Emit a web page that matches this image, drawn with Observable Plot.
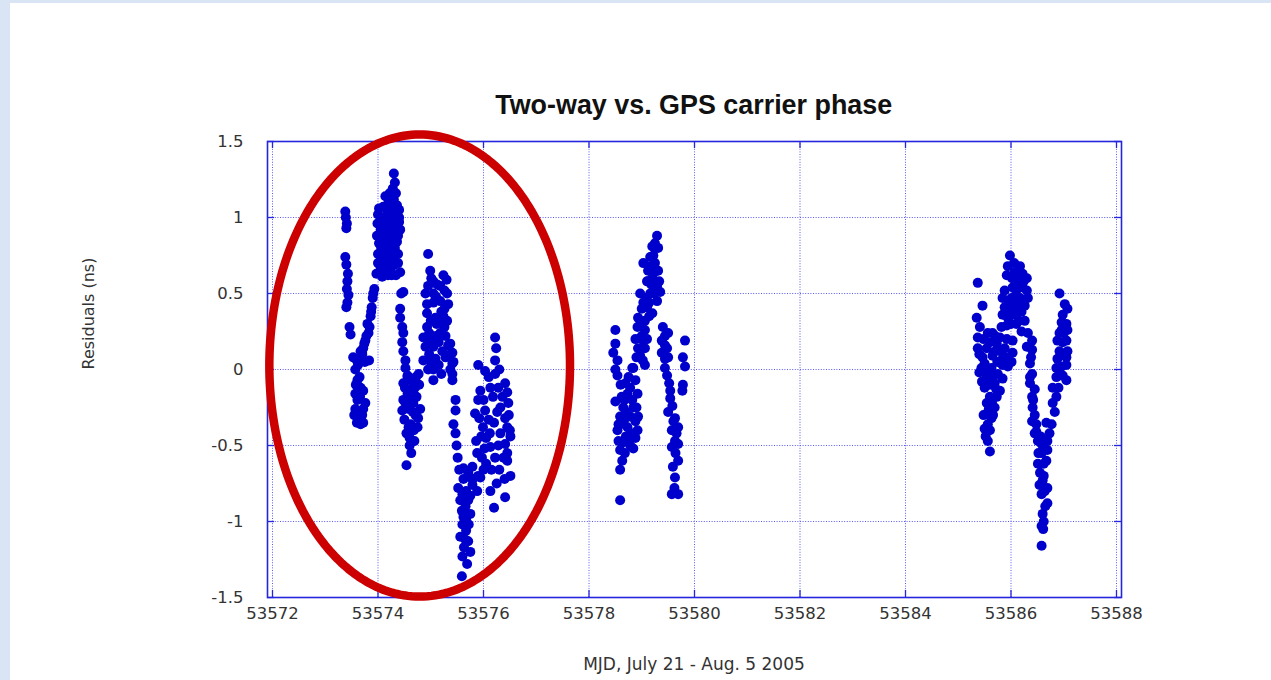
<!DOCTYPE html>
<html>
<head>
<meta charset="utf-8">
<script src="https://cdn.jsdelivr.net/npm/d3@7"></script>
<script src="https://cdn.jsdelivr.net/npm/@observablehq/plot@0.6"></script>
<style>
  html, body { margin: 0; padding: 0; }
  body { width: 1271px; height: 680px; overflow: hidden; background: #d9e5f5; position: relative; }
  #panel { position: absolute; left: 10px; top: 3px; width: 1261px; height: 677px; background: #ffffff; }
  #chart { position: absolute; left: 0; top: 0; width: 1271px; }
  #title { box-sizing: border-box; height: 125px; padding-top: 91px; margin-left: 267px; width: 854px; text-align: center;
           font-family: "Liberation Sans Narrow", "Liberation Sans", Arial, sans-serif; font-weight: bold; font-size: 28px; line-height: 28px; color: #111; }
  #title span { display: inline-block; transform: scaleX(0.96); }
  #xlabel { box-sizing: border-box; padding-top: 16px; margin-left: 267px; width: 854px; text-align: center;
            font-family: "DejaVu Sans", sans-serif; font-size: 17px; line-height: 17px; color: #333; }
  svg { display: block; }
</style>
</head>
<body>
<div id="panel"></div>
<div id="chart">
  <div id="title"><span>Two-way vs. GPS carrier phase</span></div>
  <div id="plot"></div>
  <div id="xlabel">MJD, July 21 - Aug. 5 2005</div>
</div>
<script>
// Tick values
const xTicks = [53572, 53574, 53576, 53578, 53580, 53582, 53584, 53586, 53588];
const yTicks = [-1.5, -1, -0.5, 0, 0.5, 1, 1.5];
const yLabel = "Residuals (ns)";

// Observation period 1 (MJD 53573.3 - 53576.6): [MJD, residual ns]
const pass1 = [
  [53573.38,1.04],[53573.39,1.00],[53573.41,0.96],[53573.40,0.93],
  [53573.38,0.74],[53573.40,0.69],[53573.43,0.63],[53573.42,0.58],[53573.41,0.53],[53573.44,0.49],[53573.42,0.44],[53573.40,0.41],
  [53573.46,0.28],[53573.48,0.23],
  [53573.53,0.08],[53573.70,0.11],[53573.83,0.06],[53573.57,0.00],[53573.61,-0.07],[53573.67,-0.12],[53573.72,-0.14],
  [53573.57,-0.16],[53573.61,-0.20],[53573.72,-0.26],[53573.57,-0.26],[53573.63,-0.32],[53573.72,-0.35],[53573.67,-0.36],
  [53573.55,-0.30],[53573.65,-0.05],[53573.60,0.06],
  [53573.62,0.03],[53573.75,0.05],[53573.66,-0.18],[53573.58,-0.10],[53573.70,-0.30],[53573.60,-0.35],[53573.76,-0.22],
  [53573.93,0.53],[53573.90,0.47],[53573.88,0.41],[53573.86,0.35],[53573.80,0.30],[53573.82,0.24],[53573.76,0.19],[53573.72,0.14],[53573.67,0.12],
  [53573.84,0.28],[53573.78,0.22],[53573.74,0.17],[53573.91,0.50],[53573.87,0.38],[53573.70,0.10],
  [53574.30,1.29],[53574.32,1.23],[53574.28,1.19],[53574.22,1.16],[53574.14,1.14],[53574.30,1.12],[53574.36,1.08],[53574.40,1.05],
  [53574.26,1.08],[53574.10,1.07],[53574.02,1.06],[53574.18,1.04],[53574.32,1.01],[53574.40,0.97],[53574.06,1.00],[53573.99,0.96],
  [53574.14,0.96],[53574.24,0.96],[53574.05,0.92],[53574.18,0.90],[53574.30,0.90],[53574.38,0.88],[53574.10,0.86],[53574.02,0.83],
  [53574.24,0.84],[53574.32,0.80],[53574.12,0.79],[53574.20,0.77],[53574.00,0.76],[53574.06,0.72],[53574.28,0.73],[53574.16,0.70],
  [53574.05,0.67],[53573.97,0.63],[53574.12,0.64],[53574.24,0.66],[53574.34,0.62],[53574.42,0.64],[53574.19,0.62],[53574.08,0.61],
  [53574.00,1.02],[53574.08,0.98],[53574.20,1.00],[53574.28,1.04],[53574.36,0.93],[53574.12,0.92],[53574.24,0.91],[53573.98,0.88],
  [53574.08,0.90],[53574.16,0.84],[53574.28,0.86],[53574.36,0.84],[53574.06,0.80],[53574.24,0.79],[53574.38,0.76],[53574.12,0.74],
  [53574.30,0.69],[53574.22,0.72],[53574.00,0.70],[53574.38,0.70],[53574.26,0.62],[53574.16,0.66],[53574.20,1.10],[53574.26,1.14],
  [53574.34,1.16],[53574.40,1.00],[53574.42,0.92],
  [53574.44,0.50],[53574.48,0.51],
  [53574.42,0.40],[53574.42,0.34],[53574.46,0.28],[53574.48,0.24],[53574.46,0.18],[53574.48,0.12],[53574.52,0.06],[53574.52,0.01],[53574.56,-0.04],[53574.48,-0.09],
  [53574.56,-0.05],[53574.77,-0.03],[53574.65,-0.08],[53574.51,-0.12],[53574.62,-0.14],[53574.73,-0.18],[53574.56,-0.16],[53574.48,-0.20],
  [53574.67,-0.22],[53574.80,-0.26],[53574.58,-0.26],[53574.71,-0.30],[53574.50,-0.33],[53574.62,-0.36],[53574.75,-0.38],[53574.54,-0.42],
  [53574.69,-0.47],[53574.63,-0.55],[53574.54,-0.63],[53574.60,-0.50],[53574.78,-0.10],[53574.46,-0.27],
  [53574.70,-0.12],[53574.52,-0.22],[53574.66,-0.28],[53574.76,-0.32],[53574.58,-0.38],[53574.68,-0.40],[53574.60,-0.45],[53574.72,-0.05],[53574.60,-0.20],
  [53574.95,0.76],[53574.99,0.65],[53575.01,0.60],[53575.24,0.62],[53575.30,0.59],[53574.90,0.50],[53575.05,0.50],[53575.31,0.50],
  [53574.93,0.43],[53575.18,0.45],[53575.33,0.43],[53574.93,0.37],[53575.09,0.34],[53575.31,0.32],[53574.93,0.28],[53575.11,0.30],
  [53575.26,0.28],[53574.86,0.21],[53574.99,0.19],[53575.18,0.24],[53574.90,0.15],[53575.05,0.15],[53575.33,0.16],[53574.86,0.06],
  [53575.09,0.07],[53575.37,0.10],[53575.05,0.00],[53575.41,0.04],[53575.05,-0.07],[53575.41,-0.03],[53575.20,0.38],[53575.12,0.56],
  [53575.22,0.12],[53574.97,0.10],
  [53574.95,0.55],[53575.05,0.58],[53575.18,0.55],[53575.26,0.52],[53575.05,0.44],[53575.10,0.48],[53575.26,0.40],[53575.00,0.32],
  [53575.18,0.32],[53575.24,0.35],[53574.97,0.24],[53575.10,0.22],[53575.28,0.22],[53575.15,0.18],[53575.00,0.05],[53575.15,0.03],
  [53575.28,0.08],[53575.20,-0.03],[53574.95,0.00],
  [53575.37,0.17],[53575.41,0.11],[53575.43,0.05],[53575.37,0.00],[53575.41,-0.07],[53575.47,-0.20],[53575.47,-0.27],[53575.43,-0.36],
  [53575.47,-0.42],[53575.49,-0.50],[53575.51,-0.58],
  [53575.54,-0.66],[53575.71,-0.68],[53575.90,-0.70],[53575.52,-0.78],[53575.67,-0.80],[53575.79,-0.76],[53575.56,-0.86],[53575.71,-0.86],
  [53575.88,-0.80],[53575.59,-0.93],[53575.75,-0.95],[53575.67,-0.99],[53575.67,-1.06],[53575.56,-1.10],[53575.71,-1.13],[53575.63,-1.17],
  [53575.75,-1.20],[53575.69,-1.28],[53575.59,-1.36],[53575.62,-0.72],[53575.60,-1.02],
  [53575.62,-0.65],[53575.80,-0.72],[53575.60,-0.82],[53575.75,-0.83],[53575.66,-0.90],[53575.62,-0.97],[53575.72,-1.02],[53575.66,-1.12],[53575.60,-1.23],
  [53576.22,0.21],[53576.24,0.14],[53576.22,0.06],[53575.90,0.03],[53576.03,-0.01],[53576.22,-0.03],[53576.41,-0.09],[53575.94,-0.14],
  [53576.18,-0.18],[53575.84,-0.29],[53576.03,-0.27],[53576.32,-0.25],[53576.41,-0.32],[53576.45,-0.38],[53575.99,-0.38],[53575.86,-0.47],
  [53576.05,-0.45],[53576.32,-0.42],[53576.41,-0.49],[53576.13,-0.51],[53575.88,-0.55],[53575.97,-0.58],[53576.45,-0.55],[53575.79,-0.64],
  [53576.05,-0.62],[53576.15,-0.66],[53576.45,-0.60],[53576.51,-0.70],[53575.75,-0.71],[53575.94,-0.71],[53576.13,-0.80],[53576.41,-0.84],
  [53576.20,-0.91],[53576.45,-0.15],[53576.47,-0.22],[53576.51,-0.44],[53576.13,-0.12],[53575.90,-0.20],[53576.10,-0.33],
  [53576.10,-0.05],[53576.30,0.00],[53576.00,-0.20],[53576.28,-0.12],[53576.36,-0.18],[53576.20,-0.35],[53575.92,-0.32],[53576.28,-0.50],
  [53576.38,-0.58],[53576.02,-0.52],[53576.22,-0.58],[53576.30,-0.66],[53576.40,-0.72],[53576.50,-0.40],[53576.48,-0.30],[53575.96,-0.44],
  [53576.12,-0.42],[53576.26,-0.28],[53576.00,-0.66],[53576.25,-0.75]
];

// Observation period 2 (MJD 53578.4 - 53579.9)
const pass2 = [
  [53578.50,0.26],[53578.50,0.17],[53578.46,0.11],[53578.54,0.06],[53578.50,0.00],[53578.54,-0.04],[53578.50,-0.21],[53578.69,-0.09],
  [53578.84,0.01],[53578.88,-0.07],[53578.73,-0.16],[53578.92,-0.16],[53578.65,-0.25],[53578.84,-0.25],[53578.59,-0.31],[53578.78,-0.31],
  [53578.93,-0.31],[53578.54,-0.40],[53578.73,-0.38],[53578.92,-0.40],[53578.56,-0.47],[53578.75,-0.45],[53578.84,-0.52],[53578.59,-0.53],
  [53578.63,-0.60],[53578.59,-0.66],[53578.59,-0.86],[53578.67,-0.20],[53578.80,-0.42],[53578.60,-0.36],
  [53578.60,-0.10],[53578.78,-0.12],[53578.62,-0.18],[53578.82,-0.20],[53578.70,-0.28],[53578.88,-0.34],[53578.66,-0.34],[53578.70,-0.44],
  [53578.88,-0.45],[53578.64,-0.48],[53578.78,-0.50],[53578.56,-0.36],[53578.75,-0.05],[53578.90,-0.25],[53578.68,-0.55],
  [53579.29,0.88],[53579.25,0.83],[53579.31,0.80],[53579.20,0.81],[53579.16,0.74],[53579.03,0.70],[53579.25,0.70],[53579.12,0.65],
  [53579.31,0.65],[53579.20,0.60],[53579.29,0.55],[53579.35,0.51],[53578.97,0.50],[53579.16,0.50],[53579.03,0.44],[53579.29,0.45],
  [53579.20,0.37],[53578.93,0.34],[53579.06,0.32],[53578.92,0.28],[53579.06,0.26],[53578.88,0.20],[53579.03,0.19],[53578.93,0.14],
  [53579.06,0.14],[53578.97,0.09],[53578.82,0.01],[53579.06,0.03],[53579.10,0.41],[53579.10,0.58],
  [53579.22,0.75],[53579.14,0.68],[53579.24,0.64],[53579.12,0.58],[53579.24,0.50],[53579.08,0.47],[53579.14,0.44],[53579.00,0.40],
  [53579.14,0.35],[53578.98,0.30],[53579.00,0.22],[53579.10,0.20],[53578.90,0.08],[53579.02,0.06],[53579.33,0.58],[53579.18,0.56],
  [53579.40,0.28],[53579.50,0.24],[53579.38,0.19],[53579.48,0.14],[53579.38,0.11],[53579.50,0.08],[53579.44,0.01],[53579.48,-0.04],
  [53579.54,-0.14],[53579.54,-0.19],[53579.50,-0.28],[53579.63,-0.32],[53579.69,-0.38],[53579.57,-0.40],[53579.63,-0.47],[53579.57,-0.51],
  [53579.69,-0.49],[53579.69,-0.60],[53579.59,-0.64],[53579.63,-0.71],[53579.57,-0.82],[53579.69,-0.82],
  [53579.44,0.22],[53579.44,0.16],[53579.44,0.07],[53579.52,-0.09],[53579.58,-0.24],[53579.60,-0.34],[53579.66,-0.42],[53579.64,-0.55],[53579.62,-0.78],
  [53579.82,0.19],[53579.78,0.08],[53579.82,0.02],[53579.78,-0.10],[53579.77,-0.14]
];

// Observation period 3 (MJD 53585.3 - 53587.1)
const pass3 = [
  [53585.37,0.57],[53585.46,0.42],[53585.35,0.34],[53585.41,0.28],[53585.37,0.21],[53585.56,0.24],[53585.65,0.24],[53585.79,0.21],
  [53585.37,0.14],[53585.54,0.14],[53585.73,0.17],[53585.88,0.14],[53586.03,0.19],[53585.46,0.08],[53585.65,0.09],[53585.84,0.07],
  [53586.03,0.11],[53585.44,0.01],[53585.63,0.01],[53585.84,0.03],[53586.01,0.05],[53585.54,-0.05],[53585.75,-0.03],[53585.50,-0.12],
  [53585.69,-0.09],[53585.79,-0.14],[53585.60,-0.18],[53585.73,-0.18],[53585.54,-0.22],[53585.69,-0.25],[53585.54,-0.29],[53585.63,-0.32],
  [53585.50,-0.39],[53585.60,-0.40],[53585.56,-0.47],[53585.60,-0.54],[53585.48,-0.30],[53585.45,-0.08],
  [53585.48,0.20],[53585.60,0.18],[53585.70,0.12],[53585.92,0.20],[53585.50,0.04],[53585.74,0.05],[53585.92,0.08],[53585.56,-0.02],
  [53585.66,-0.04],[53585.60,-0.10],[53585.72,-0.13],[53585.64,-0.22],[53585.58,-0.26],[53585.66,-0.30],[53585.56,-0.36],[53585.52,-0.44],
  [53585.40,0.10],[53585.94,0.02],[53585.84,-0.06],[53585.80,0.12],[53585.70,0.22],[53585.40,-0.02],
  [53585.98,0.75],[53585.94,0.68],[53586.17,0.68],[53586.22,0.63],[53586.07,0.64],[53586.30,0.60],[53585.88,0.52],[53586.03,0.54],
  [53586.22,0.54],[53586.30,0.52],[53585.84,0.47],[53586.01,0.47],[53586.17,0.47],[53586.32,0.47],[53585.88,0.41],[53586.07,0.41],
  [53586.26,0.42],[53585.84,0.36],[53586.03,0.36],[53586.26,0.32],[53585.92,0.29],[53585.82,0.28],[53586.15,0.32],[53586.20,0.25],
  [53585.92,0.62],[53586.02,0.60],[53586.12,0.60],[53586.10,0.52],[53585.96,0.44],[53586.12,0.44],[53586.22,0.46],[53585.96,0.39],
  [53586.16,0.38],[53585.94,0.34],[53586.10,0.30],[53586.06,0.70],[53586.14,0.58],[53586.24,0.58],[53586.08,0.48],[53586.20,0.38],[53586.00,0.30],
  [53586.32,0.24],[53586.40,0.19],[53586.30,0.15],[53586.40,0.13],[53586.36,0.04],[53586.40,-0.03],[53586.36,-0.09],[53586.45,-0.13],
  [53586.40,-0.18],[53586.41,-0.25],[53586.40,-0.34],[53586.45,-0.42],[53586.51,-0.47],[53586.58,-0.49],[53586.67,-0.47],[53586.58,-0.55],
  [53586.69,-0.53],[53586.51,-0.62],[53586.67,-0.60],[53586.55,-0.68],[53586.60,-0.73],[53586.69,-0.78],[53586.58,-0.82],[53586.69,-0.88],
  [53586.60,-0.95],[53586.58,-1.03],[53586.61,-1.05],[53586.58,-1.16],
  [53586.38,0.08],[53586.36,-0.05],[53586.42,-0.20],[53586.45,-0.30],[53586.48,-0.36],[53586.56,-0.44],[53586.62,-0.52],[53586.62,-0.62],
  [53586.62,-0.70],[53586.64,-0.80],[53586.65,-0.90],[53586.62,-1.00],[53586.52,-0.55],[53586.54,-0.76],
  [53586.92,0.50],[53587.02,0.43],[53587.07,0.40],[53586.96,0.31],[53587.05,0.30],[53586.92,0.24],[53587.07,0.26],[53586.88,0.19],
  [53587.05,0.19],[53586.92,0.12],[53587.07,0.12],[53586.88,0.07],[53587.05,0.08],[53586.86,0.01],[53587.05,0.03],[53586.86,-0.05],
  [53587.05,-0.07],[53586.79,-0.12],[53586.79,-0.22],[53586.83,-0.28],[53586.67,-0.35],[53586.77,-0.36],[53586.48,-0.41],[53586.73,-0.42],
  [53586.69,-0.47],
  [53586.98,0.36],[53586.96,0.26],[53586.98,0.18],[53586.96,0.10],[53586.96,0.02],[53586.92,-0.04],[53586.90,-0.12],[53586.98,-0.04],
  [53587.00,0.24],[53586.86,-0.18]
];

// Red highlight ellipse around period 1 (data units: center MJD/ns, radii days/ns)
const ellipseCenter = [53574.79, 0.026];
const ellipseRadii = [2.85, 1.52];

const points = [...pass1, ...pass2, ...pass3];
const ellipsePts = d3.range(0, 240).map(i => {
  const t = (i / 240) * 2 * Math.PI;
  return [ellipseCenter[0] + ellipseRadii[0] * Math.cos(t), ellipseCenter[1] + ellipseRadii[1] * Math.sin(t)];
});

const W = 1271, H = 515, mT = 16, mB = 43, mL = 267, mR = 150;
const frameW = W - mL - mR, frameH = H - mT - mB;
const gridColor = "#5a5af0", axisColor = "#2525dd", dotColor = "#0000cc";
const tick = 7;

const chart = Plot.plot({
  width: W, height: H,
  marginTop: mT, marginBottom: mB, marginLeft: mL, marginRight: mR,
  style: { fontFamily: "DejaVu Sans, sans-serif", fontSize: "16.5px", color: "#333", background: "transparent", overflow: "visible" },
  x: { domain: [53572, 53588], insetLeft: 5, insetRight: 5, ticks: xTicks, tickFormat: d => String(d), tickSize: 0, tickPadding: 10, label: null },
  y: { domain: [-1.5, 1.5], ticks: yTicks, tickFormat: d => String(d), tickSize: 0, tickPadding: 24, label: null },
  marks: [
    Plot.ruleX(xTicks, { stroke: gridColor, strokeWidth: 1, strokeDasharray: "1,1.6" }),
    Plot.ruleY(yTicks, { stroke: gridColor, strokeWidth: 1, strokeDasharray: "1,1.6" }),
    Plot.ruleX(xTicks, { stroke: axisColor, strokeWidth: 1.3, insetTop: frameH - tick }),
    Plot.ruleX(xTicks, { stroke: axisColor, strokeWidth: 1.3, insetBottom: frameH - tick }),
    Plot.ruleY(yTicks, { stroke: axisColor, strokeWidth: 1.3, insetRight: frameW - tick }),
    Plot.ruleY(yTicks, { stroke: axisColor, strokeWidth: 1.3, insetLeft: frameW - tick }),
    Plot.frame({ stroke: axisColor, strokeWidth: 1.6 }),
    Plot.dot(points, { x: d => d[0], y: d => d[1], r: 5, fill: dotColor, stroke: "none" }),
    Plot.line(ellipsePts, { x: d => d[0], y: d => d[1], curve: "linear-closed", stroke: "#cc0000", strokeWidth: 8.5 }),
    Plot.text([yLabel], { text: d => d, frameAnchor: "left", dx: -179, rotate: -90, fontSize: 16, fill: "#333" })
  ]
});
document.getElementById("plot").appendChild(chart);
</script>
</body>
</html>
